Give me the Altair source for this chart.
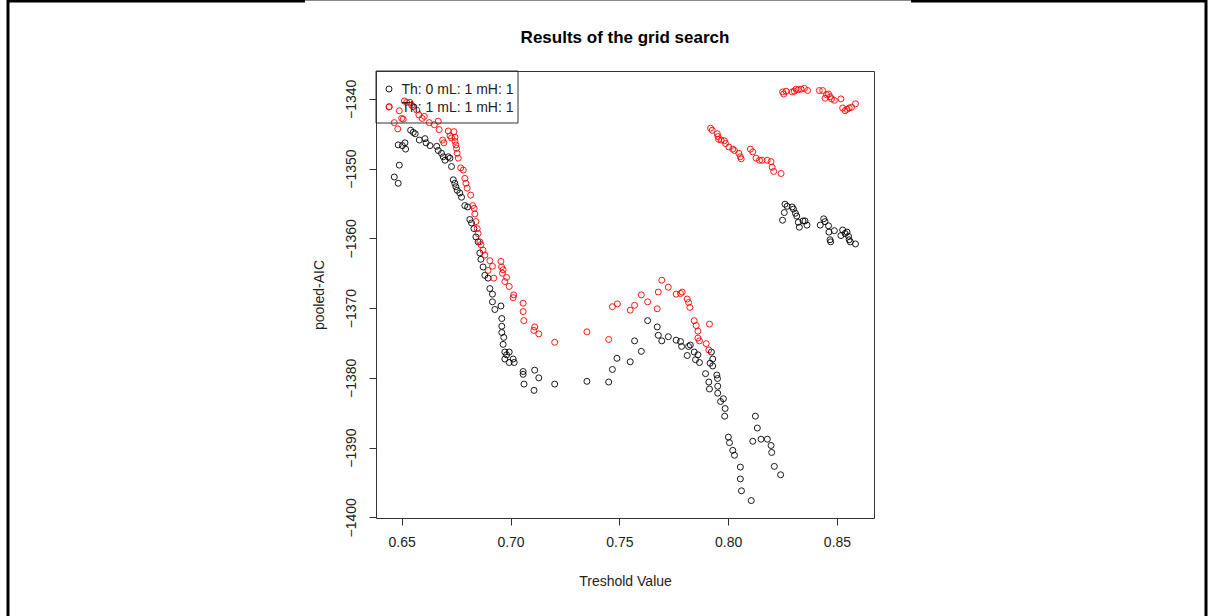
import altair as alt
import pandas as pd

# Threshold grid, Th: 0 model (black)
th0_x = [0.6466, 0.6484, 0.6489, 0.6484, 0.6503, 0.6515, 0.6518, 0.6541, 0.6553, 0.6562,
         0.6581, 0.6607, 0.6612, 0.6630, 0.6661, 0.6668, 0.6683, 0.6691, 0.6699, 0.6714,
         0.6722, 0.6729, 0.6737, 0.6744, 0.6749, 0.6755, 0.6767, 0.6775, 0.6790, 0.6803,
         0.6813, 0.6821, 0.6832, 0.6841, 0.6851, 0.6859, 0.6864, 0.6874, 0.6882, 0.6897,
         0.6905, 0.6917, 0.6917, 0.6928, 0.6956, 0.6960, 0.6960, 0.6960, 0.6969, 0.6966,
         0.6974, 0.6994, 0.6982, 0.6974, 0.6994, 0.7012, 0.7017, 0.7058, 0.7058, 0.7062,
         0.7111, 0.7130, 0.7108, 0.7203, 0.7351, 0.7451, 0.7468, 0.7489, 0.7550, 0.7570,
         0.7601, 0.7630, 0.7674, 0.7679, 0.7695, 0.7725, 0.7761, 0.7781, 0.7786, 0.7812,
         0.7818, 0.7826, 0.7844, 0.7861, 0.7850, 0.7868, 0.7896, 0.7911, 0.7914, 0.7923,
         0.7929, 0.7917, 0.7929, 0.7948, 0.7951, 0.7952, 0.7952, 0.7965, 0.7978, 0.7986,
         0.7984, 0.8001, 0.8006, 0.8021, 0.8029, 0.8056, 0.8056, 0.8061, 0.8106, 0.8113,
         0.8125, 0.8134, 0.8151, 0.8180, 0.8197, 0.8200, 0.8212, 0.8241, 0.8250, 0.8258,
         0.8261, 0.8271, 0.8294, 0.8300, 0.8309, 0.8315, 0.8322, 0.8327, 0.8344, 0.8353,
         0.8362, 0.8423, 0.8439, 0.8445, 0.8461, 0.8463, 0.8468, 0.8471, 0.8488, 0.8518,
         0.8526, 0.8537, 0.8546, 0.8553, 0.8556, 0.8561, 0.8585]
th0_aic = [-1351.2, -1352.1, -1349.5, -1346.6, -1346.7, -1346.3, -1347.2, -1344.5, -1344.8, -1345.0,
           -1345.9, -1345.7, -1346.3, -1346.7, -1346.8, -1347.4, -1347.8, -1348.3, -1348.8, -1348.3,
           -1348.5, -1349.7, -1351.6, -1352.1, -1352.6, -1353.1, -1353.5, -1354.1, -1355.3, -1355.5,
           -1357.3, -1357.8, -1358.6, -1359.8, -1360.5, -1362.1, -1363.0, -1364.1, -1365.3, -1365.7,
           -1367.2, -1368.0, -1369.1, -1370.2, -1369.7, -1371.5, -1372.6, -1373.5, -1374.2, -1375.2,
           -1376.3, -1376.3, -1376.7, -1377.3, -1377.8, -1377.3, -1377.8, -1379.1, -1379.5, -1380.9,
           -1378.9, -1380.0, -1381.8, -1380.9, -1380.5, -1380.6, -1378.8, -1377.2, -1377.7, -1374.7,
           -1376.2, -1371.8, -1372.7, -1373.9, -1374.7, -1374.1, -1374.6, -1374.8, -1375.5, -1376.8,
           -1375.5, -1375.3, -1376.3, -1376.7, -1377.4, -1377.8, -1379.4, -1380.6, -1381.6, -1376.3,
           -1377.3, -1377.9, -1378.3, -1379.6, -1380.1, -1381.2, -1382.2, -1383.4, -1383.0, -1384.4,
           -1385.5, -1388.5, -1389.3, -1390.4, -1391.1, -1392.8, -1394.5, -1396.2, -1397.6, -1389.1,
           -1385.5, -1387.2, -1388.8, -1388.8, -1389.7, -1390.7, -1392.7, -1393.9, -1357.4, -1356.3,
           -1355.1, -1355.4, -1355.5, -1355.8, -1356.4, -1356.8, -1357.7, -1358.4, -1357.5, -1357.5,
           -1358.1, -1358.1, -1357.2, -1357.6, -1358.2, -1359.1, -1360.2, -1360.5, -1358.9, -1359.6,
           -1358.8, -1359.3, -1359.1, -1359.7, -1360.2, -1360.5, -1360.8]

# Threshold grid, Th: 1 model (red)
th1_x = [0.6443, 0.6466, 0.6482, 0.6489, 0.6500, 0.6507, 0.6512, 0.6523, 0.6538, 0.6546,
         0.6553, 0.6569, 0.6579, 0.6594, 0.6604, 0.6627, 0.6650, 0.6668, 0.6672, 0.6688,
         0.6694, 0.6714, 0.6722, 0.6729, 0.6740, 0.6745, 0.6745, 0.6749, 0.6752, 0.6755,
         0.6760, 0.6771, 0.6783, 0.6790, 0.6795, 0.6801, 0.6817, 0.6826, 0.6833, 0.6836,
         0.6841, 0.6847, 0.6851, 0.6859, 0.6864, 0.6874, 0.6882, 0.6905, 0.6897, 0.6917,
         0.6923, 0.6956, 0.6959, 0.6966, 0.6963, 0.6982, 0.6974, 0.6994, 0.7015, 0.7012,
         0.7058, 0.7058, 0.7061, 0.7111, 0.7107, 0.7130, 0.7203, 0.7351, 0.7451, 0.7468,
         0.7491, 0.7550, 0.7570, 0.7601, 0.7630, 0.7674, 0.7679, 0.7695, 0.7725, 0.7761,
         0.7781, 0.7789, 0.7812, 0.7818, 0.7824, 0.7844, 0.7853, 0.7861, 0.7861, 0.7868,
         0.7899, 0.7911, 0.7914, 0.7919, 0.7927, 0.7950, 0.7953, 0.7956, 0.7968, 0.7983,
         0.7988, 0.8003, 0.8021, 0.8029, 0.8049, 0.8056, 0.8060, 0.8102, 0.8113, 0.8128,
         0.8144, 0.8156, 0.8179, 0.8197, 0.8202, 0.8209, 0.8243, 0.8250, 0.8255, 0.8266,
         0.8294, 0.8304, 0.8312, 0.8322, 0.8335, 0.8350, 0.8365, 0.8419, 0.8434, 0.8445,
         0.8452, 0.8461, 0.8469, 0.8475, 0.8488, 0.8518, 0.8526, 0.8537, 0.8546, 0.8556,
         0.8567, 0.8585]
th1_aic = [-1341.1, -1343.4, -1344.3, -1341.7, -1342.8, -1342.9, -1340.3, -1340.5, -1340.5, -1340.9,
           -1341.1, -1341.6, -1342.3, -1342.8, -1342.5, -1343.4, -1343.7, -1343.2, -1344.4, -1345.9,
           -1346.3, -1344.6, -1345.3, -1345.6, -1344.7, -1345.5, -1346.1, -1346.6, -1347.1, -1347.8,
           -1348.5, -1349.9, -1350.2, -1351.4, -1352.1, -1352.8, -1353.8, -1355.3, -1355.7, -1356.5,
           -1357.6, -1358.6, -1359.3, -1360.5, -1360.9, -1361.7, -1362.4, -1363.2, -1364.6, -1364.0,
           -1365.7, -1363.3, -1364.1, -1364.5, -1365.0, -1365.6, -1366.2, -1366.9, -1368.1, -1368.5,
           -1369.3, -1370.5, -1371.8, -1372.7, -1373.2, -1373.7, -1374.9, -1373.4, -1374.5, -1369.8,
           -1369.4, -1370.3, -1369.6, -1368.1, -1369.1, -1370.1, -1367.7, -1366.0, -1367.0, -1368.0,
           -1367.9, -1367.7, -1368.7, -1369.2, -1369.9, -1371.8, -1372.5, -1373.3, -1374.3, -1374.7,
           -1375.1, -1376.0, -1372.3, -1344.2, -1344.5, -1345.0, -1345.4, -1345.8, -1345.9, -1346.0,
           -1346.4, -1346.9, -1347.2, -1347.4, -1347.8, -1348.3, -1348.6, -1347.2, -1347.6, -1348.5,
           -1348.8, -1348.8, -1348.8, -1349.0, -1349.8, -1350.4, -1350.7, -1339.0, -1339.3, -1338.9,
           -1339.0, -1338.9, -1338.6, -1338.7, -1338.6, -1338.5, -1338.8, -1338.8, -1338.8, -1339.9,
           -1339.4, -1339.3, -1339.7, -1340.0, -1340.2, -1340.0, -1341.3, -1341.7, -1341.5, -1341.3,
           -1341.2, -1340.7]

series_labels = ["Th: 0 mL: 1 mH: 1", "Th: 1 mL: 1 mH: 1"]
series_colors = ["#000000", "#ff0000"]
x_ticks = [0.65, 0.70, 0.75, 0.80, 0.85]
y_ticks = [-1400, -1390, -1380, -1370, -1360, -1350, -1340]

df = pd.concat([
    pd.DataFrame({"threshold": th0_x, "aic": th0_aic, "series": series_labels[0]}),
    pd.DataFrame({"threshold": th1_x, "aic": th1_aic, "series": series_labels[1]}),
], ignore_index=True)

# Page layout (pixels)
PAGE_W, PAGE_H = 1208, 616
LEFT, TOP = 376, 71
W, H = 498, 447
FONT = "Liberation Sans"
INK = "#222222"
LINE = "#333333"
SYMBOL_SIZE = 36

color_scale = alt.Scale(domain=series_labels, range=series_colors)

points = alt.Chart(df).mark_point(
    shape="circle", filled=False, size=SYMBOL_SIZE, strokeWidth=1, opacity=0.9
).encode(
    x=alt.X("threshold:Q",
            scale=alt.Scale(domain=[0.6382, 0.867], nice=False, zero=False),
            axis=alt.Axis(values=x_ticks, format=".2f", title="Treshold Value",
                          titleX=W / 2, titleY=67, titleBaseline="alphabetic",
                          titleAlign="center", labelPadding=10)),
    y=alt.Y("aic:Q",
            scale=alt.Scale(domain=[-1400.1, -1336.0], nice=False, zero=False),
            axis=alt.Axis(values=y_ticks, format="d", title="pooled-AIC",
                          labelAngle=270, labelAlign="center", labelBaseline="alphabetic",
                          labelPadding=14, titleAngle=270, titleX=-53, titleY=H / 2,
                          titleAlign="center", titleBaseline="alphabetic")),
    color=alt.Color("series:N", scale=color_scale, legend=None),
)

# Legend box in the top-left corner of the plot region
legend_box = alt.Chart(pd.DataFrame({"k": [0]})).mark_rect(
    fillOpacity=0, stroke=LINE, strokeWidth=1
).encode(x=alt.value(0), x2=alt.value(142), y=alt.value(0), y2=alt.value(52))

legend_df = pd.DataFrame({"series": series_labels, "row": [0, 1]})
legend_sym = alt.Chart(legend_df).mark_point(
    shape="circle", filled=False, size=SYMBOL_SIZE, strokeWidth=1, opacity=0.9
).encode(
    x=alt.value(13),
    y=alt.Y("row:Q", scale=alt.Scale(domain=[0, 1], range=[18, 36]), axis=None),
    color=alt.Color("series:N", scale=color_scale, legend=None),
)
legend_txt = alt.Chart(legend_df).mark_text(
    align="left", baseline="middle", font=FONT, fontSize=14, color=INK
).encode(
    x=alt.value(25.5),
    y=alt.Y("row:Q", scale=alt.Scale(domain=[0, 1], range=[19, 37]), axis=None),
    text="series:N",
)

title = alt.Chart(pd.DataFrame({"t": ["Results of the grid search"]})).mark_text(
    align="center", baseline="middle", font=FONT, fontSize=17, fontWeight="bold", color="#000"
).encode(x=alt.value(W / 2), y=alt.value(38 - TOP), text="t:N")

# Outer frame of the page
frame_df = pd.DataFrame({
    "x1": [8, 7, 305, 911, 1206],
    "x2": [8, 305, 911, 1207, 1206],
    "y1": [0, 1, 0.5, 1, 0],
    "y2": [PAGE_H, 1, 0.5, 1, PAGE_H],
    "w": [3, 3, 1, 3, 3],
    "c": ["#000", "#000", "#8a8a8a", "#000", "#000"],
})
frame_df["x1"] -= LEFT
frame_df["x2"] -= LEFT
frame_df["y1"] -= TOP
frame_df["y2"] -= TOP
frame = alt.Chart(frame_df).mark_rule().encode(
    x=alt.X("x1:Q", scale=None), x2="x2:Q",
    y=alt.Y("y1:Q", scale=None), y2="y2:Q",
    strokeWidth=alt.StrokeWidth("w:Q", scale=None, legend=None),
    color=alt.Color("c:N", scale=None, legend=None),
)

chart = alt.layer(points, legend_box, legend_sym, legend_txt, title, frame).resolve_scale(
    y="independent"
).properties(
    width=W, height=H,
    autosize="none",
    padding={"left": LEFT, "top": TOP, "right": PAGE_W - LEFT - W, "bottom": PAGE_H - TOP - H},
    background="white",
).configure_view(
    stroke=LINE, strokeWidth=1
).configure_axis(
    domain=False, grid=False, ticks=True, tickSize=7, tickColor=LINE, tickWidth=1,
    labelFont=FONT, labelFontSize=14, labelColor=INK,
    titleFont=FONT, titleFontSize=14, titleFontWeight="normal", titleColor=INK,
)

chart.save("out.html", embed_options={"renderer": "svg", "actions": False})
